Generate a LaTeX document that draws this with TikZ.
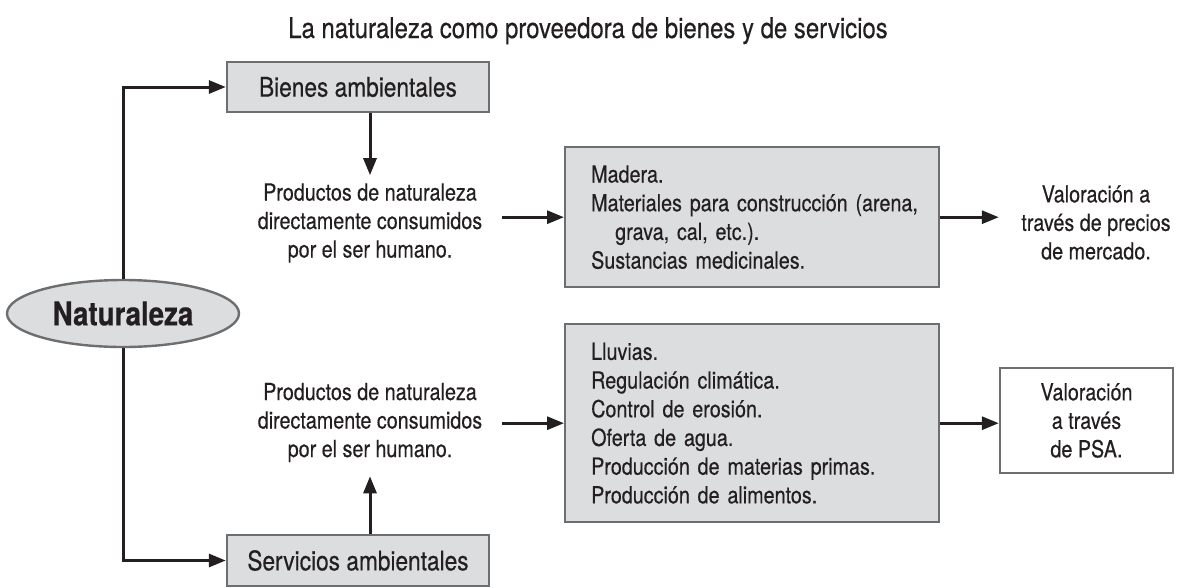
\documentclass[tikz,border=0pt]{standalone}
\usepackage{fontspec}
\setmainfont{TeX Gyre Heros}[FakeStretch=0.84,FakeBold=0.4]
\usetikzlibrary{arrows.meta,shapes.geometric}

\definecolor{boxfill}{HTML}{DCDDDE}
\definecolor{boxline}{HTML}{6D6E70}
\definecolor{ink}{HTML}{231F20}

\tikzset{
  graybox/.style={draw=boxline, fill=boxfill, line width=2.4pt, inner sep=0pt},
  listbox/.style={graybox, anchor=north west, text width=322pt, inner xsep=26pt, align=left,
    font=\fontsize{23.5}{28.7}\selectfont},
  rotulo/.style={graybox, minimum width=262pt, font=\fontsize{27}{30}\selectfont},
  prodtext/.style={align=center, inner sep=0pt, font=\fontsize{23.5}{28.5}\selectfont},
  flecha/.style={draw=ink, line width=3pt, -{Triangle[length=17pt,width=13pt]}},
}

\begin{document}
\begin{tikzpicture}[x=1pt,y=-1pt,text=ink]
  \useasboundingbox (0,0) rectangle (1178,587);

  \node[anchor=base, font=\fontsize{28.5}{32}\selectfont] (titulo) at (588,38)
    {La naturaleza como proveedora de bienes y de servicios};

  \node[ellipse, graybox, minimum width=232pt, minimum height=67pt,
    font=\fontsize{33}{36}\selectfont\bfseries] (nat) at (123,313.5) {Naturaleza};

  \node[rotulo, minimum height=50pt] (bienes) at (358,87) {Bienes ambientales};
  \node[rotulo, minimum height=51pt] (servicios) at (358,560.5) {Servicios ambientales};

  \node[prodtext] (prodA) at (370,223) {Productos de naturaleza\\directamente consumidos\\por el ser humano.};
  \node[prodtext] (prodB) at (370,422.5) {Productos de naturaleza\\directamente consumidos\\por el ser humano.};

  \node[listbox, minimum height=140pt] (bienlist) at (564,146)
    {Madera.\\\mbox{Materiales para construcción (arena,}\\\hspace*{24pt}grava, cal, etc.).\\Sustancias medicinales.};
  \node[listbox, minimum height=198pt] (servlist) at (564,323)
    {Lluvias.\\Regulación climática.\\Control de erosión.\\Oferta de agua.\\Producción de materias primas.\\Producción de alimentos.};

  \node[prodtext] (mercado) at (1096,222.5) {Valoración a\\través de precios\\de mercado.};
  \node[draw=boxline, line width=2.4pt, minimum width=173pt, minimum height=105pt, align=center,
    font=\fontsize{23.5}{28.5}\selectfont] (psa) at (1086.5,420.5) {Valoración\\a través\\de PSA.};

  % conexiones
  \draw[flecha] (nat.north) |- (bienes.west);
  \draw[flecha] (nat.south) |- (servicios.west);
  \draw[flecha] (bienes.south -| prodA.north) -- ([yshift=8pt]prodA.north);
  \draw[flecha] (servicios.north -| prodB.south) -- ([yshift=-14pt]prodB.south);
  \draw[flecha] ([xshift=-62pt]bienlist.west) -- (bienlist.west);
  \draw[flecha] ([xshift=-62pt]servlist.west) -- (servlist.west);
  \draw[flecha] (bienlist.east) -- (bienlist.east -| psa.west);
  \draw[flecha] (servlist.east) -- (servlist.east -| psa.west);
\end{tikzpicture}
\end{document}
